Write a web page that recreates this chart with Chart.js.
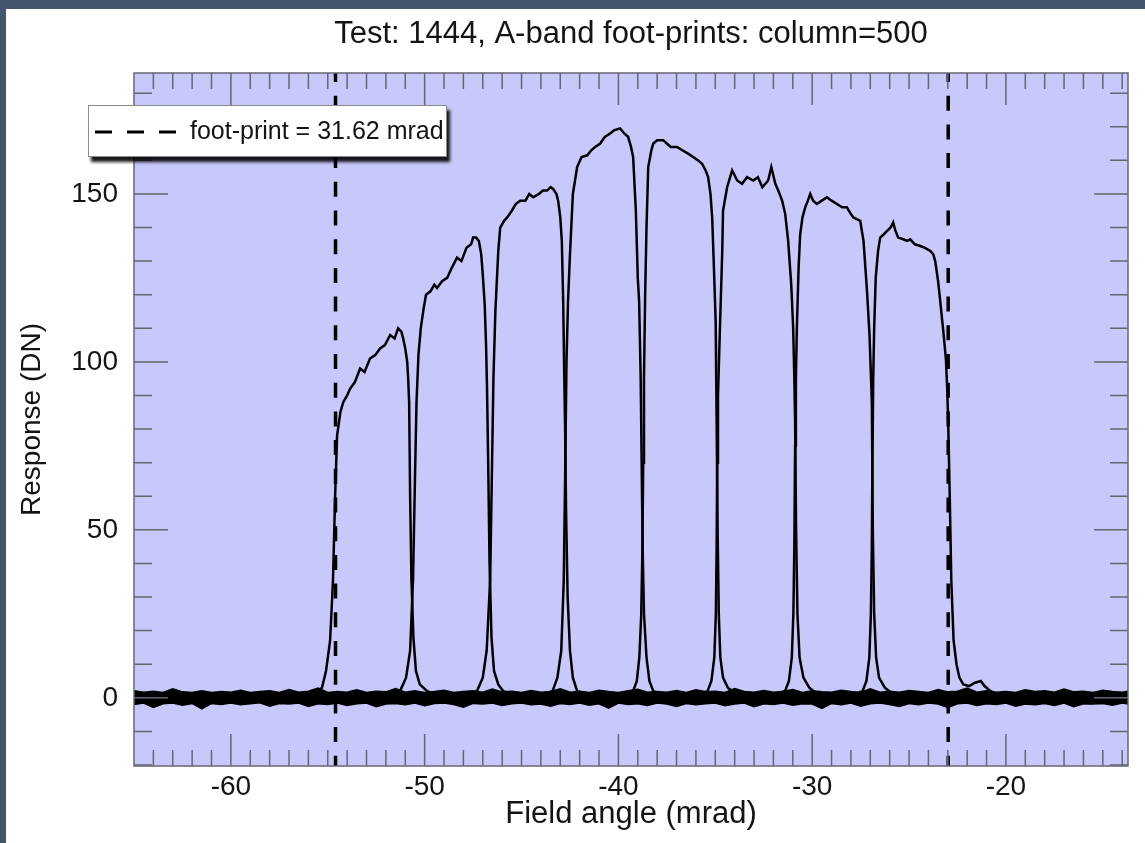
<!DOCTYPE html>
<html>
<head>
<meta charset="utf-8">
<title>Test 1444 A-band foot-prints</title>
<script src="https://cdn.jsdelivr.net/npm/chart.js@4.4.1/dist/chart.umd.min.js"></script>
<style>
  html, body { margin: 0; padding: 0; background: #44556c; }
  #wrap { position: absolute; left: 6px; top: 9px; width: 1139px; height: 834px; background: #fff; }
</style>
</head>
<body>
<div id="wrap"><canvas id="chart" width="1139" height="834"></canvas></div>
<script>
// foot-print markers (mrad)
var footLeft = -54.6;
var footRight = -22.98;
var footLabel = 'foot-print = 31.62 mrad';

// baseline noise envelope at 0 DN
var baseX = [-65, -64.5, -64, -63.5, -63, -62.5, -62, -61.5, -61, -60.5,
             -60, -59.5, -59, -58.5, -58, -57.5, -57, -56.5, -56, -55.5,
             -55, -54.5, -54, -53.5, -53, -52.5, -52, -51.5, -51, -50.5,
             -50, -49.5, -49, -48.5, -48, -47.5, -47, -46.5, -46, -45.5,
             -45, -44.5, -44, -43.5, -43, -42.5, -42, -41.5, -41, -40.5,
             -40, -39.5, -39, -38.5, -38, -37.5, -37, -36.5, -36, -35.5,
             -35, -34.5, -34, -33.5, -33, -32.5, -32, -31.5, -31, -30.5,
             -30, -29.5, -29, -28.5, -28, -27.5, -27, -26.5, -26, -25.5,
             -25, -24.5, -24, -23.5, -23, -22.5, -22, -21.5, -21, -20.5,
             -20, -19.5, -19, -18.5, -18, -17.5, -17, -16.5, -16, -15.5,
             -15, -14.5, -14, -13.5];
var baseTop = [2.0, 1.6, 1.9, 1.5, 2.6, 1.7, 1.5, 2.0, 1.5, 1.8,
               1.6, 2.2, 1.5, 1.8, 2.0, 1.5, 2.4, 1.6, 1.9, 2.8,
               1.5, 1.8, 1.6, 2.3, 1.5, 1.9, 1.7, 2.7, 1.6, 2.0,
               1.5, 1.8, 2.2, 1.5, 1.8, 2.0, 1.6, 2.5, 1.7, 1.9,
               1.5, 2.1, 1.6, 1.8, 2.6, 1.6, 1.9, 1.5, 2.2, 1.8,
               1.5, 2.0, 2.5, 1.6, 1.8, 1.6, 2.1, 1.5, 2.3, 1.7,
               1.9, 1.5, 2.7, 1.8, 1.6, 2.1, 1.6, 1.9, 2.4, 1.5,
               2.0, 1.7, 1.6, 2.2, 1.8, 1.5, 2.6, 1.6, 1.9, 1.6,
               2.1, 1.8, 1.5, 2.4, 1.7, 1.9, 2.8, 1.6, 2.0, 1.6,
               1.8, 1.5, 2.3, 1.8, 2.0, 1.6, 2.5, 1.7, 1.9, 1.5,
               2.2, 1.8, 1.6, 2.0];
var baseBottom = [-1.9, -1.5, -2.8, -1.7, -1.5, -2.1, -1.6, -3.2, -1.6, -1.9,
                  -1.5, -2.0, -1.7, -1.4, -2.4, -1.6, -1.8, -1.5, -2.5, -1.7,
                  -1.9, -1.5, -2.2, -1.7, -1.5, -2.6, -1.8, -1.6, -2.0, -1.5,
                  -2.3, -1.6, -1.5, -1.9, -2.7, -1.6, -1.8, -1.5, -2.2, -1.7,
                  -1.5, -2.0, -1.8, -2.4, -1.6, -1.9, -1.5, -2.1, -1.7, -3.0,
                  -1.5, -1.9, -1.7, -2.2, -1.5, -1.8, -2.5, -1.6, -2.0, -1.7,
                  -1.5, -2.3, -1.8, -1.5, -2.6, -1.7, -1.9, -1.5, -2.1, -1.7,
                  -1.8, -3.1, -1.6, -2.0, -1.5, -2.4, -1.7, -1.5, -1.9, -2.5,
                  -1.6, -2.0, -1.5, -1.8, -2.8, -1.7, -1.5, -2.2, -1.7, -1.9,
                  -1.5, -2.4, -1.8, -2.0, -1.6, -2.2, -1.5, -2.6, -1.7, -1.8,
                  -1.6, -2.1, -1.5, -1.9];

// the eight foot-print responses (field angle mrad, response DN)
var band1X = [-56.2, -55.6, -55.3, -55.09, -54.88, -54.73, -54.62, -54.52, -54.35, -54.2,
              -54.0, -53.85, -53.6, -53.33, -53.1, -52.82, -52.55, -52.3, -52.05, -51.78,
              -51.55, -51.37, -51.2, -51.11, -51.0, -50.9, -50.85, -50.8, -50.75, -50.68,
              -50.58, -50.45, -50.25, -49.87, -49.4];
var band1Y = [0.5, 1.5, 3, 8, 17, 35, 60, 78, 85, 88,
              90, 92, 94, 98, 97, 101, 102, 104, 105, 108,
              107, 110, 109, 107, 104, 100, 95, 88, 60, 35,
              18, 8, 4, 2, 1];

var band2X = [-51.9, -51.27, -50.96, -50.75, -50.6, -50.5, -50.42, -50.32, -50.2, -50.05,
              -49.93, -49.7, -49.5, -49.36, -49.1, -48.84, -48.6, -48.33, -48.1, -47.84,
              -47.6, -47.5, -47.34, -47.2, -47.08, -47.0, -46.9, -46.83, -46.78, -46.72,
              -46.65, -46.55, -46.42, -46.2, -45.95, -45.4];
var band2Y = [1, 2, 6, 14, 35, 65, 88, 102, 110, 116,
              120, 121, 123, 122, 124, 125, 128, 131, 130, 134,
              135, 137, 137, 136, 132, 126, 117, 105, 92, 70,
              40, 18, 8, 4, 2, 1];

var band3X = [-47.9, -47.3, -47.0, -46.8, -46.62, -46.52, -46.45, -46.35, -46.2, -46.1,
              -45.9, -45.74, -45.5, -45.3, -45.07, -44.8, -44.6, -44.4, -44.1, -43.9,
              -43.68, -43.5, -43.37, -43.2, -43.11, -43.0, -42.92, -42.85, -42.8, -42.75,
              -42.7, -42.62, -42.5, -42.35, -42.13, -41.6];
var band3Y = [1, 2, 6, 14, 35, 70, 95, 115, 133, 140,
              142, 143, 145, 147, 148, 148, 150, 149, 150, 151,
              151, 152, 151.5, 150, 148, 143, 136, 118, 98, 80,
              55, 30, 14, 6, 2, 1];

var band4X = [-44.0, -43.4, -43.15, -42.95, -42.82, -42.74, -42.68, -42.6, -42.5, -42.35,
              -42.13, -41.9, -41.61, -41.4, -41.2, -40.94, -40.7, -40.43, -40.2, -39.91,
              -39.7, -39.5, -39.35, -39.24, -39.1, -39.0, -38.93, -38.85, -38.8, -38.75,
              -38.68, -38.55, -38.4, -38.2, -37.7];
var band4Y = [1, 2, 6, 14, 35, 70, 100, 118, 132, 150,
              158, 161, 161.5, 163, 164, 165, 167, 168, 169, 169.5,
              168, 167, 164, 161, 145, 125, 118, 95, 70, 45,
              25, 12, 5, 2, 1];

var band5X = [-39.8, -39.24, -39.05, -38.92, -38.82, -38.76, -38.72, -38.68, -38.62, -38.55,
              -38.46, -38.3, -38.2, -38.0, -37.69, -37.5, -37.3, -36.97, -36.7, -36.4,
              -36.14, -35.9, -35.68, -35.5, -35.37, -35.25, -35.16, -35.07, -34.98, -34.93,
              -34.88, -34.82, -34.74, -34.6, -34.35, -34.0, -33.6];
var band5Y = [1, 2, 5, 12, 25, 45, 70, 95, 120, 140,
              158, 163, 165, 166, 166, 165, 164, 164, 163, 162,
              161, 160, 159, 157, 155, 150, 143, 128, 112, 82,
              50, 25, 12, 6, 3, 1.5, 1];

var band6X = [-35.9, -35.4, -35.2, -35.05, -34.97, -34.93, -34.9, -34.86, -34.75, -34.64,
              -34.6, -34.39, -34.13, -33.87, -33.62, -33.36, -33.04, -32.8, -32.57, -32.27,
              -32.11, -31.9, -31.75, -31.55, -31.39, -31.24, -31.08, -30.98, -30.92, -30.88,
              -30.83, -30.76, -30.65, -30.45, -30.15, -29.7];
var band6Y = [1, 2, 5, 12, 25, 45, 70, 90, 112, 133,
              145, 152, 157, 154, 153, 155, 154, 155, 152, 154,
              158, 153, 151, 148, 144, 136, 123, 110, 95, 82,
              50, 25, 12, 6, 3, 1];

var band7X = [-31.9, -31.4, -31.2, -31.05, -30.97, -30.92, -30.88, -30.84, -30.79, -30.7,
              -30.62, -30.5, -30.36, -30.22, -30.1, -29.95, -29.76, -29.5, -29.24, -29.0,
              -28.72, -28.45, -28.21, -28.0, -27.87, -27.7, -27.52, -27.35, -27.18, -27.04,
              -26.92, -26.87, -26.8, -26.7, -26.55, -26.25, -25.8];
var band7Y = [1, 2, 5, 12, 25, 45, 75, 95, 110, 128,
              138, 143, 146, 148, 150, 148, 147, 148, 149, 148,
              147, 146, 146, 144, 143, 142.5, 142, 136, 122, 108,
              88, 50, 25, 12, 6, 3, 1];

var band8X = [-27.9, -27.4, -27.2, -27.05, -26.97, -26.92, -26.89, -26.85, -26.8, -26.72,
              -26.6, -26.49, -26.3, -26.13, -25.95, -25.82, -25.7, -25.56, -25.3, -25.1,
              -24.94, -24.7, -24.42, -24.2, -23.9, -23.75, -23.65, -23.5, -23.39, -23.23,
              -23.1, -23.03, -22.98, -22.9, -22.82, -22.7, -22.55, -22.4, -22.2, -21.9,
              -21.6, -21.3, -21.1, -20.8, -20.4];
var band8Y = [1, 2, 5, 12, 25, 45, 70, 95, 110, 125,
              133, 137, 138, 139, 140, 141.5, 139, 137, 136.5, 136,
              136.5, 135, 134.5, 134, 133, 132, 130, 124, 118, 109,
              101, 92, 82, 60, 35, 17, 10, 6, 4, 3.5,
              4.5, 5, 3.5, 2, 1];

var bands = [[band1X, band1Y], [band2X, band2Y], [band3X, band3Y], [band4X, band4Y],
             [band5X, band5Y], [band6X, band6Y], [band7X, band7Y], [band8X, band8Y]];

var xRange = [-65, -13.7];
var yRange = [-20.3, 186];

var font = "'Liberation Sans', Arial, Helvetica, sans-serif";
var ink = '#141414';
var plotBg = '#c8c8fa';
var tickColor = '#666674';
var footDash = [15, 13.7];

function toPoints(xs, ys) {
  return xs.map(function (x, i) { return {x: x, y: ys[i]}; });
}

var datasets = [];
datasets.push({
  label: 'noise top', data: toPoints(baseX, baseTop),
  borderColor: '#000', borderWidth: 2, pointRadius: 0, fill: false
});
datasets.push({
  label: 'noise bottom', data: toPoints(baseX, baseBottom),
  borderColor: '#000', borderWidth: 2, pointRadius: 0,
  backgroundColor: '#000', fill: '-1'
});
bands.forEach(function (b, i) {
  datasets.push({
    label: 'band ' + (i + 1), data: toPoints(b[0], b[1]),
    borderColor: '#000', borderWidth: 2.5, pointRadius: 0, fill: false
  });
});
[footLeft, footRight].forEach(function (fx, i) {
  datasets.push({
    label: i === 0 ? footLabel : 'foot-print right',
    data: [{x: fx, y: yRange[1]}, {x: fx, y: yRange[0] - 1}],
    borderColor: '#000', borderWidth: 3.5, borderDash: footDash, borderDashOffset: 6,
    pointRadius: 0, fill: false
  });
});

var frame = {
  id: 'frame',
  beforeDraw: function (chart) {
    var a = chart.chartArea, ctx = chart.ctx;
    ctx.save();
    ctx.fillStyle = plotBg;
    ctx.fillRect(a.left, a.top, a.right - a.left, a.bottom - a.top);
    ctx.restore();
  },
  afterDatasetsDraw: function (chart) {
    var a = chart.chartArea, ctx = chart.ctx;
    var xs = chart.scales.x, ys = chart.scales.y;
    ctx.save();
    ctx.strokeStyle = tickColor;
    ctx.lineWidth = 1.5;
    ctx.beginPath();
    // inward ticks, top and bottom
    for (var v = -64; v <= -14; v++) {
      var px = xs.getPixelForValue(v);
      var len = (v % 10 === 0) ? 32 : 16;
      ctx.moveTo(px, a.bottom); ctx.lineTo(px, a.bottom - len);
      ctx.moveTo(px, a.top); ctx.lineTo(px, a.top + len);
    }
    // inward ticks, left and right
    for (var w = -20; w <= 180; w += 10) {
      var py = ys.getPixelForValue(w);
      var l2 = (w % 50 === 0) ? 34 : 18;
      ctx.moveTo(a.left, py); ctx.lineTo(a.left + l2, py);
      ctx.moveTo(a.right, py); ctx.lineTo(a.right - l2, py);
    }
    ctx.stroke();
    ctx.strokeRect(a.left, a.top, a.right - a.left, a.bottom - a.top);
    ctx.restore();
  },
  afterDraw: function (chart) {
    var ctx = chart.ctx;
    var bx = 82, by = 96, bw = 359, bh = 52;
    ctx.save();
    ctx.shadowColor = 'rgba(0,0,0,0.9)';
    ctx.shadowOffsetX = 3;
    ctx.shadowOffsetY = 5;
    ctx.shadowBlur = 3;
    ctx.fillStyle = '#fff';
    ctx.fillRect(bx, by, bw, bh);
    ctx.shadowColor = 'transparent';
    ctx.strokeStyle = '#8a8a8a';
    ctx.lineWidth = 1;
    ctx.strokeRect(bx + 0.5, by + 0.5, bw - 1, bh - 1);
    var cy = by + bh / 2 + 1;
    ctx.strokeStyle = '#000';
    ctx.lineWidth = 3;
    ctx.setLineDash([17, 15]);
    ctx.beginPath();
    ctx.moveTo(bx + 7, cy);
    ctx.lineTo(bx + 88, cy);
    ctx.stroke();
    ctx.setLineDash([]);
    ctx.fillStyle = ink;
    ctx.font = '25px ' + font;
    ctx.textBaseline = 'middle';
    ctx.fillText(footLabel, bx + 102, cy);
    ctx.restore();
  }
};

new Chart(document.getElementById('chart').getContext('2d'), {
  type: 'line',
  data: { datasets: datasets },
  options: {
    responsive: false,
    animation: false,
    layout: { padding: { left: 0, right: 17, top: 0, bottom: 0 } },
    plugins: {
      legend: { display: false },
      tooltip: { enabled: false },
      title: {
        display: true,
        text: 'Test: 1444, A-band foot-prints: column=500',
        fullSize: false,
        color: ink,
        font: { family: font, size: 31, weight: 'normal' },
        padding: { top: 6.4, bottom: 20.4 }
      }
    },
    scales: {
      x: {
        type: 'linear',
        min: xRange[0], max: xRange[1],
        grid: { display: false, drawTicks: false },
        border: { display: false },
        ticks: {
          stepSize: 10, includeBounds: false, autoSkip: false, maxRotation: 0,
          padding: 4, color: ink, font: { family: font, size: 28 }
        },
        title: {
          display: true, text: 'Field angle (mrad)', color: ink,
          font: { family: font, size: 31 }, padding: { top: 0, bottom: 10 }
        },
        afterFit: function (s) { s.height = 77; }
      },
      y: {
        min: yRange[0], max: yRange[1],
        grid: { display: false, drawTicks: false },
        border: { display: false },
        ticks: {
          stepSize: 50, includeBounds: false, padding: 16,
          color: ink, font: { family: font, size: 28 }
        },
        title: {
          display: true, text: 'Response (DN)', color: ink,
          font: { family: font, size: 28 }, padding: { top: 9, bottom: 0 }
        },
        afterFit: function (s) { s.width = 128; }
      }
    }
  },
  plugins: [frame]
});
</script>
</body>
</html>
